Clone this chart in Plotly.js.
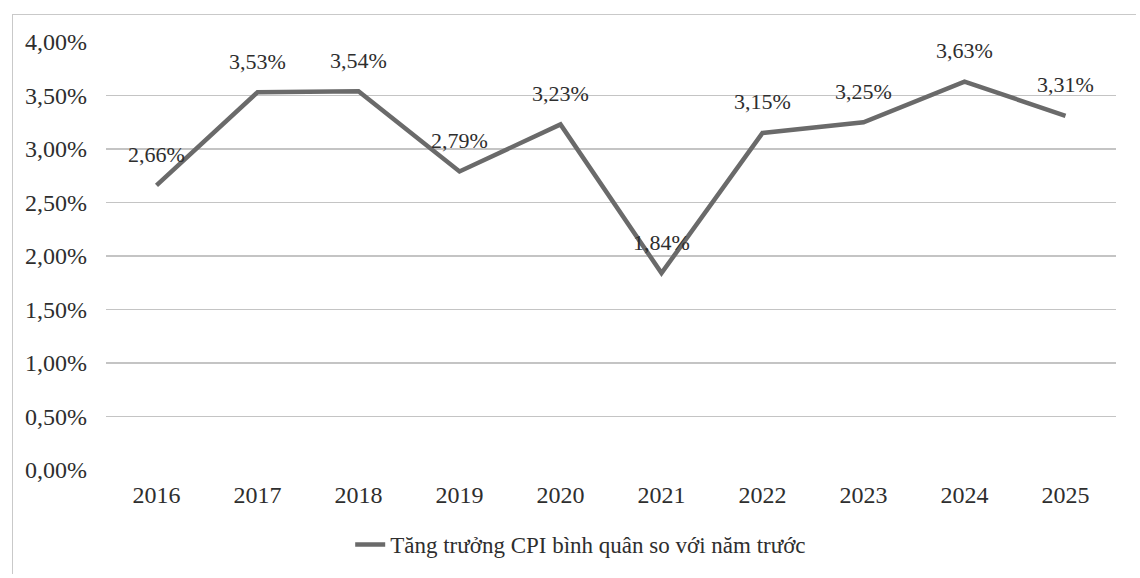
<!DOCTYPE html>
<html>
<head>
<meta charset="utf-8">
<script src="https://cdn.plot.ly/plotly-3.0.1.min.js"></script>
<style>
  html, body { margin: 0; padding: 0; background: #ffffff; }
  #frame { position: absolute; left: 12px; top: 14px; width: 1124px; height: 560px; border: 1px solid #c9c9c9; border-right: none; border-bottom: none; box-sizing: border-box; }
  #chart { position: absolute; left: 0; top: 0; width: 1140px; height: 578px; }
</style>
</head>
<body>
<div id="frame"></div>
<div id="chart"></div>
<script>
// Data
const years = ['2016', '2017', '2018', '2019', '2020', '2021', '2022', '2023', '2024', '2025'];
const cpiGrowth = [2.66, 3.53, 3.54, 2.79, 3.23, 1.84, 3.15, 3.25, 3.63, 3.31];
const yTickValues = [0, 0.5, 1, 1.5, 2, 2.5, 3, 3.5, 4];
const yTickLabels = ['0,00%', '0,50%', '1,00%', '1,50%', '2,00%', '2,50%', '3,00%', '3,50%', '4,00%'];
const seriesName = 'Tăng trưởng CPI bình quân so với năm trước';

const fmt = v => v.toFixed(2).replace('.', ',') + '%';

const FONT = '"Liberation Serif", "Times New Roman", serif';
const TEXT = '#2e2e2e';

const trace = {
  x: years,
  y: cpiGrowth,
  type: 'scatter',
  mode: 'lines',
  name: seriesName,
  line: { color: '#6a6a6a', width: 4.5 },
  hoverinfo: 'skip'
};

// Data labels: placed at each category's index on the category axis
const labels = years.map((yr, i) => ({
  x: i,
  y: cpiGrowth[i],
  xref: 'x',
  yref: 'y',
  text: fmt(cpiGrowth[i]),
  showarrow: false,
  yshift: 31,
  font: { family: FONT, size: 22, color: TEXT }
}));

const layout = {
  width: 1140,
  height: 578,
  margin: { l: 106, r: 24, t: 42, b: 106 },
  paper_bgcolor: 'rgba(0,0,0,0)',
  plot_bgcolor: 'rgba(0,0,0,0)',
  font: { family: FONT, color: TEXT },
  showlegend: true,
  annotations: labels,
  legend: {
    orientation: 'h',
    x: 0.47, xanchor: 'center',
    y: -0.174, yanchor: 'middle',
    font: { family: FONT, size: 23, color: TEXT },
    bgcolor: 'rgba(0,0,0,0)',
    itemwidth: 30
  },
  xaxis: {
    type: 'category',
    range: [-0.5, years.length - 0.5],
    showgrid: false,
    zeroline: false,
    showline: false,
    ticks: '',
    tickfont: { family: FONT, size: 24, color: TEXT },
    ticklabelstandoff: 8,
    fixedrange: true
  },
  yaxis: {
    range: [0, 4],
    tickvals: yTickValues,
    ticktext: yTickLabels,
    showgrid: true,
    gridcolor: '#c4c4c4',
    gridwidth: 1.2,
    zeroline: false,
    showline: false,
    ticks: '',
    tickfont: { family: FONT, size: 24, color: TEXT },
    ticklabelstandoff: 18,
    fixedrange: true
  }
};

Plotly.newPlot('chart', [trace], layout, { displayModeBar: false, staticPlot: true });
</script>
</body>
</html>
